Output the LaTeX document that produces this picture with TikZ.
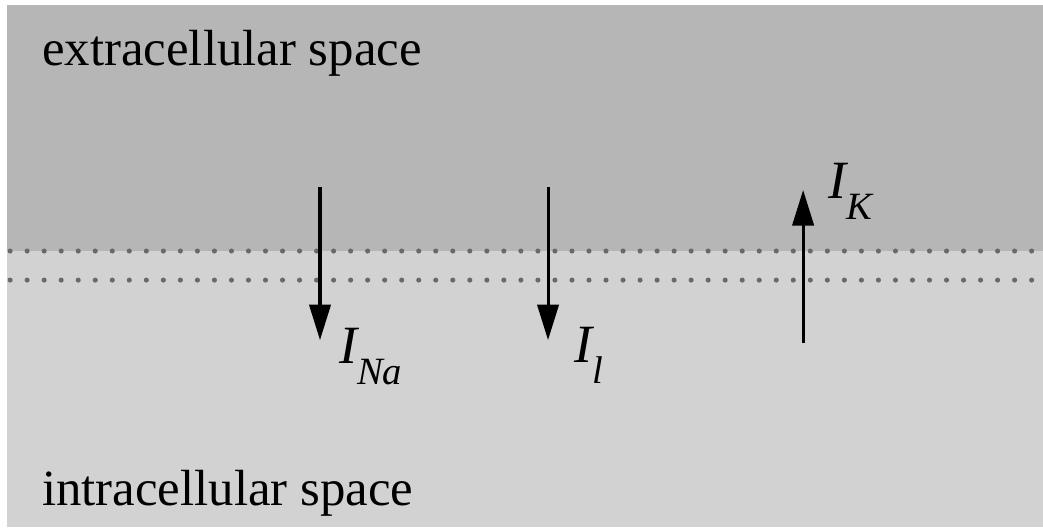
\documentclass[tikz,border=0pt]{standalone}
\usepackage{fontspec}
\setmainfont{Liberation Serif}
\usepackage{tikz}
\usetikzlibrary{arrows.meta}
\definecolor{extragray}{RGB}{182,182,182}
\definecolor{intragray}{RGB}{210,210,210}
\definecolor{dotgray}{RGB}{105,105,105}
\newcommand{\curr}[1]{{\itshape I}\raisebox{-0.85ex}{\fontsize{7.6}{8}\selectfont\itshape #1}}

\begin{document}
\begin{tikzpicture}[
  every node/.style={font=\fontsize{10}{12}\selectfont, inner sep=0pt},
  region/.style={anchor=base west},
  curlabel/.style={anchor=base west, font=\fontsize{10.6}{12}\selectfont},
  membrane/.style={dotgray, line width=1pt, line cap=round,
                   dash pattern=on 0pt off 3.35pt},
  current/.style={-{Triangle[length=7pt, width=4.2pt]}, line width=0.6pt, black},
]

\useasboundingbox (0, 0) rectangle (7.213, 3.659);

%% Background: extracellular above, intracellular below
\fill[intragray] (0.048, 0.014) rectangle (7.213, 3.624);
\fill[extragray] (0.048, 1.923) rectangle (7.213, 3.624);

%% Membrane
\draw[membrane] (0.07, 1.923) -- (7.213, 1.923);
\draw[membrane] (0.07, 1.722) -- (7.213, 1.722);

%% Region names
\node[region] (extra) at (0.285, 3.209) {extracellular space};
\node[region] (intra) at (0.285, 0.166) {intracellular space};

%% Current end points
\coordinate (na0) at (2.213, 2.365);
\coordinate (na1) at (2.213, 1.307);
\coordinate (l0)  at (3.790, 2.365);
\coordinate (l1)  at (3.790, 1.307);
\coordinate (k0)  at (5.554, 1.286);
\coordinate (k1)  at (5.554, 2.345);

%% Currents
\draw[current] (na0) -- (na1);
\draw[current] (l0) -- (l1);
\draw[current] (k0) -- (k1);

%% Labels
\node[curlabel] (lna) at (2.338, 1.148) {\curr{Na}};
\node[curlabel] (ll)  at (3.963, 1.155) {\curr{l}};
\node[curlabel] (lk)  at (5.720, 2.289) {\curr{K}};

\end{tikzpicture}
\end{document}
